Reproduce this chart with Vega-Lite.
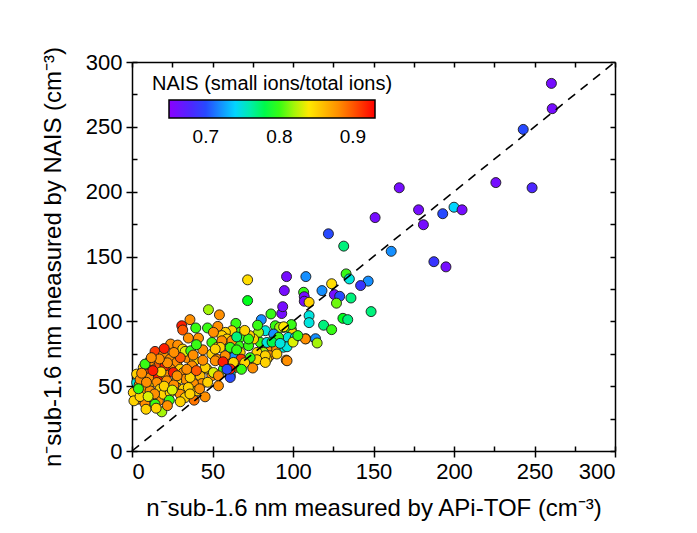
{
  "$schema": "https://vega.github.io/schema/vega-lite/v6.json",
  "width": 483,
  "height": 389,
  "autosize": "none",
  "padding": {"left": 132, "top": 62, "right": 82, "bottom": 82},
  "background": "white",
  "config": {
    "view": {"stroke": null},
    "axis": {
      "grid": false,
      "labelFont": "Liberation Sans",
      "titleFont": "Liberation Sans",
      "labelFontSize": 22,
      "titleFontSize": 24,
      "titleFontWeight": "normal",
      "labelColor": "black",
      "titleColor": "black",
      "domainColor": "black",
      "tickColor": "black",
      "domainWidth": 1.5,
      "tickWidth": 1.5
    }
  },
  "layer": [
    {
      "data": {
        "values": [
          {"x": 260.5, "y": 283.5, "r": 0.66},
          {"x": 261, "y": 264, "r": 0.66}, {"x": 243, "y": 248, "r": 0.70}, {"x": 226, "y": 207, "r": 0.66},
          {"x": 248.5, "y": 203, "r": 0.68}, {"x": 166, "y": 203, "r": 0.66}, {"x": 151, "y": 180, "r": 0.66},
          {"x": 178, "y": 186, "r": 0.66}, {"x": 200, "y": 188, "r": 0.74}, {"x": 205, "y": 186, "r": 0.66},
          {"x": 193, "y": 183, "r": 0.70}, {"x": 181, "y": 174.5, "r": 0.66}, {"x": 122, "y": 167.5, "r": 0.70},
          {"x": 131.5, "y": 158, "r": 0.77}, {"x": 161, "y": 154, "r": 0.72}, {"x": 187.5, "y": 146, "r": 0.69},
          {"x": 195, "y": 142, "r": 0.66}, {"x": 133, "y": 136.6, "r": 0.80}, {"x": 135, "y": 132.7, "r": 0.75},
          {"x": 146.7, "y": 131, "r": 0.72}, {"x": 142, "y": 127.6, "r": 0.69}, {"x": 124, "y": 129, "r": 0.845},
          {"x": 96, "y": 134.5, "r": 0.66}, {"x": 108, "y": 134.5, "r": 0.72}, {"x": 94.6, "y": 123.7, "r": 0.66},
          {"x": 106.6, "y": 122.4, "r": 0.80}, {"x": 107, "y": 119, "r": 0.66}, {"x": 107, "y": 115.5, "r": 0.66},
          {"x": 110, "y": 114.7, "r": 0.85}, {"x": 118, "y": 123.7, "r": 0.72}, {"x": 125.7, "y": 120.6, "r": 0.66},
          {"x": 129, "y": 119.3, "r": 0.70}, {"x": 127, "y": 114, "r": 0.81}, {"x": 136, "y": 118, "r": 0.77},
          {"x": 148.5, "y": 107.5, "r": 0.77}, {"x": 93, "y": 106, "r": 0.66}, {"x": 110, "y": 104.4, "r": 0.75},
          {"x": 110, "y": 99, "r": 0.75}, {"x": 131, "y": 102.3, "r": 0.79}, {"x": 134, "y": 101.3, "r": 0.77},
          {"x": 119, "y": 97, "r": 0.77}, {"x": 124, "y": 93.6, "r": 0.80}, {"x": 94, "y": 95.3, "r": 0.80},
          {"x": 99, "y": 93.6, "r": 0.80}, {"x": 100, "y": 90.7, "r": 0.85}, {"x": 108, "y": 86.6, "r": 0.86},
          {"x": 114, "y": 86.6, "r": 0.72}, {"x": 115, "y": 83.3, "r": 0.82}, {"x": 71.8, "y": 132, "r": 0.845},
          {"x": 71.8, "y": 116, "r": 0.79}, {"x": 93.6, "y": 111.3, "r": 0.66}, {"x": 86.3, "y": 105.7, "r": 0.80},
          {"x": 80.3, "y": 101.3, "r": 0.72}, {"x": 64.5, "y": 98.4, "r": 0.80}, {"x": 99, "y": 97.5, "r": 0.80},
          {"x": 89, "y": 96.6, "r": 0.80}, {"x": 91.7, "y": 95.3, "r": 0.82}, {"x": 94.2, "y": 95.8, "r": 0.84},
          {"x": 97, "y": 87.6, "r": 0.75}, {"x": 107.7, "y": 86.4, "r": 0.88}, {"x": 82.8, "y": 92.8, "r": 0.75},
          {"x": 78.6, "y": 91.5, "r": 0.82}, {"x": 88, "y": 90.2, "r": 0.72}, {"x": 91, "y": 87.6, "r": 0.80},
          {"x": 94, "y": 80, "r": 0.75}, {"x": 96.3, "y": 80.4, "r": 0.75}, {"x": 89, "y": 79.4, "r": 0.88},
          {"x": 83.8, "y": 78.6, "r": 0.88}, {"x": 79.7, "y": 83.7, "r": 0.80}, {"x": 75.5, "y": 86.4, "r": 0.85},
          {"x": 73, "y": 89, "r": 0.85}, {"x": 67.2, "y": 91.5, "r": 0.80}, {"x": 62, "y": 92.8, "r": 0.85},
          {"x": 58, "y": 91.5, "r": 0.85}, {"x": 67.2, "y": 87.6, "r": 0.80}, {"x": 56.8, "y": 86.4, "r": 0.88},
          {"x": 61.4, "y": 83.7, "r": 0.91}, {"x": 66.2, "y": 81.2, "r": 0.80}, {"x": 72.4, "y": 81.2, "r": 0.80},
          {"x": 59, "y": 75.2, "r": 0.88}, {"x": 67.2, "y": 76, "r": 0.85}, {"x": 63, "y": 72.1, "r": 0.72},
          {"x": 81.7, "y": 76, "r": 0.82}, {"x": 76.6, "y": 70.1, "r": 0.85}, {"x": 85.5, "y": 73.5, "r": 0.88},
          {"x": 90, "y": 74.8, "r": 0.85}, {"x": 95.8, "y": 70.1, "r": 0.88}, {"x": 83.8, "y": 70.9, "r": 0.85},
          {"x": 57.9, "y": 68.3, "r": 0.92}, {"x": 67.7, "y": 70.9, "r": 0.91}, {"x": 56.8, "y": 63.2, "r": 0.80},
          {"x": 61, "y": 58, "r": 0.80}, {"x": 64, "y": 64.4, "r": 0.88}, {"x": 59, "y": 78.6, "r": 0.70},
          {"x": 47.5, "y": 109, "r": 0.82}, {"x": 54.3, "y": 105, "r": 0.88}, {"x": 36, "y": 101.3, "r": 0.88},
          {"x": 39.6, "y": 94.9, "r": 0.80}, {"x": 46.9, "y": 94.9, "r": 0.80}, {"x": 53.3, "y": 96.1, "r": 0.88},
          {"x": 30.9, "y": 96.6, "r": 0.92}, {"x": 31.5, "y": 93.3, "r": 0.90}, {"x": 35, "y": 87.1, "r": 0.88},
          {"x": 41.3, "y": 87.1, "r": 0.88}, {"x": 24, "y": 82.5, "r": 0.88}, {"x": 28.4, "y": 81.7, "r": 0.88},
          {"x": 31.5, "y": 78.6, "r": 0.85}, {"x": 14.3, "y": 76.8, "r": 0.91}, {"x": 19.5, "y": 74.2, "r": 0.88},
          {"x": 23.7, "y": 70.9, "r": 0.88}, {"x": 34.4, "y": 71.7, "r": 0.88}, {"x": 38.8, "y": 69.6, "r": 0.85},
          {"x": 37.2, "y": 65.7, "r": 0.88}, {"x": 27.8, "y": 68.3, "r": 0.88}, {"x": 24, "y": 63.2, "r": 0.88},
          {"x": 29.9, "y": 63.2, "r": 0.85}, {"x": 16.4, "y": 67, "r": 0.90}, {"x": 11.2, "y": 65.7, "r": 0.88},
          {"x": 7, "y": 64.4, "r": 0.85}, {"x": 9.1, "y": 59.3, "r": 0.90}, {"x": 2.9, "y": 52.8, "r": 0.75},
          {"x": 4.5, "y": 51, "r": 0.88}, {"x": 11.2, "y": 56.7, "r": 0.88}, {"x": 16.4, "y": 56.7, "r": 0.92},
          {"x": 20.5, "y": 59.3, "r": 0.88}, {"x": 25.7, "y": 60.5, "r": 0.92}, {"x": 31.9, "y": 60.5, "r": 0.88},
          {"x": 37.2, "y": 60.5, "r": 0.88}, {"x": 42.3, "y": 58, "r": 0.86}, {"x": 46.5, "y": 63.2, "r": 0.85},
          {"x": 49.6, "y": 58, "r": 0.88}, {"x": 43.4, "y": 52, "r": 0.88}, {"x": 38.2, "y": 52, "r": 0.88},
          {"x": 33, "y": 55.4, "r": 0.88}, {"x": 27.8, "y": 54.1, "r": 0.85}, {"x": 21.6, "y": 54.1, "r": 0.88},
          {"x": 15.4, "y": 52.8, "r": 0.88}, {"x": 10.1, "y": 50.3, "r": 0.85}, {"x": 7, "y": 47.7, "r": 0.88},
          {"x": 2.9, "y": 45.1, "r": 0.85}, {"x": 3.9, "y": 40, "r": 0.88}, {"x": 8.1, "y": 36.6, "r": 0.88},
          {"x": 12.3, "y": 41.8, "r": 0.85}, {"x": 11.2, "y": 46.4, "r": 0.88}, {"x": 17.4, "y": 47.7, "r": 0.85},
          {"x": 16.4, "y": 38.7, "r": 0.88}, {"x": 19.5, "y": 43.8, "r": 0.85}, {"x": 23.7, "y": 45.1, "r": 0.85},
          {"x": 23.2, "y": 39.2, "r": 0.80}, {"x": 27.8, "y": 48.9, "r": 0.88}, {"x": 31.9, "y": 47.7, "r": 0.85},
          {"x": 29.9, "y": 43.8, "r": 0.88}, {"x": 33, "y": 41.2, "r": 0.85}, {"x": 38.6, "y": 39.2, "r": 0.89},
          {"x": 45.4, "y": 41.8, "r": 0.88}, {"x": 40.3, "y": 46.4, "r": 0.85}, {"x": 8.7, "y": 32.2, "r": 0.85},
          {"x": 18.5, "y": 30.2, "r": 0.82}, {"x": 14.3, "y": 36.1, "r": 0.80}, {"x": 0.8, "y": 45.1, "r": 0.85},
          {"x": 1.2, "y": 38.7, "r": 0.85}, {"x": 36.1, "y": 56.7, "r": 0.85}, {"x": 45.4, "y": 64.4, "r": 0.85},
          {"x": 50.6, "y": 60.5, "r": 0.83}, {"x": 53.7, "y": 58, "r": 0.88}, {"x": 11.2, "y": 69.6, "r": 0.88},
          {"x": 8.1, "y": 67, "r": 0.80}, {"x": 20.5, "y": 65.7, "r": 0.92}, {"x": 2.9, "y": 59.3, "r": 0.85},
          {"x": 33, "y": 76.8, "r": 0.83}, {"x": 36.5, "y": 77.3, "r": 0.80}, {"x": 49.6, "y": 83.7, "r": 0.80},
          {"x": 53, "y": 80, "r": 0.85}, {"x": 55.8, "y": 89, "r": 0.85}, {"x": 59, "y": 86.4, "r": 0.85},
          {"x": 49.6, "y": 74.8, "r": 0.85}, {"x": 52.7, "y": 70.9, "r": 0.88}, {"x": 57.9, "y": 73.5, "r": 0.88},
          {"x": 63, "y": 68.3, "r": 0.85}, {"x": 61, "y": 60.5, "r": 0.75}, {"x": 61, "y": 56.7, "r": 0.70},
          {"x": 53.7, "y": 50.3, "r": 0.88}, {"x": 62, "y": 85, "r": 0.88}, {"x": 55.8, "y": 85, "r": 0.88},
          {"x": 54.8, "y": 79.9, "r": 0.85}, {"x": 61, "y": 79.9, "r": 0.80}, {"x": 72.4, "y": 86.4, "r": 0.80},
          {"x": 77.6, "y": 76, "r": 0.85}, {"x": 82.8, "y": 73.5, "r": 0.85}, {"x": 96.3, "y": 69.6, "r": 0.88},
          {"x": 77.6, "y": 70.4, "r": 0.85}, {"x": 83.8, "y": 83.7, "r": 0.75}, {"x": 51.7, "y": 69.6, "r": 0.88},
          {"x": 61, "y": 63.2, "r": 0.92}, {"x": 44, "y": 70, "r": 0.88}, {"x": 5, "y": 55, "r": 0.88},
          {"x": 5, "y": 42, "r": 0.85}, {"x": 14, "y": 44, "r": 0.88}, {"x": 20, "y": 50, "r": 0.85},
          {"x": 26, "y": 51, "r": 0.88}, {"x": 35, "y": 49, "r": 0.85}, {"x": 42, "y": 48, "r": 0.88},
          {"x": 9, "y": 53, "r": 0.88}, {"x": 18, "y": 61, "r": 0.85}, {"x": 28, "y": 58, "r": 0.88},
          {"x": 34, "y": 63, "r": 0.88}, {"x": 40, "y": 62, "r": 0.90}, {"x": 13, "y": 62, "r": 0.92},
          {"x": 22, "y": 68, "r": 0.88}, {"x": 30, "y": 72, "r": 0.90}, {"x": 17, "y": 71, "r": 0.88},
          {"x": 6, "y": 60, "r": 0.88}, {"x": 25, "y": 47, "r": 0.83}, {"x": 36, "y": 44, "r": 0.85},
          {"x": 47, "y": 53, "r": 0.85}, {"x": 15, "y": 33, "r": 0.85}, {"x": 22, "y": 35, "r": 0.88},
          {"x": 30, "y": 38, "r": 0.85}, {"x": 4, "y": 48, "r": 0.80}, {"x": 10, "y": 42, "r": 0.83},
          {"x": 38, "y": 74, "r": 0.88}, {"x": 26, "y": 76, "r": 0.88}, {"x": 44, "y": 78, "r": 0.88},
          {"x": 20, "y": 79, "r": 0.92}, {"x": 12, "y": 72, "r": 0.88}, {"x": 40, "y": 82, "r": 0.80},
          {"x": 50.6, "y": 91.5, "r": 0.88}, {"x": 51.7, "y": 78.6, "r": 0.85}, {"x": 56.5, "y": 68.8, "r": 0.92},
          {"x": 59, "y": 63, "r": 0.70}, {"x": 73.4, "y": 72, "r": 0.80}, {"x": 82.8, "y": 68.3, "r": 0.85},
          {"x": 101.4, "y": 87.6, "r": 0.75}, {"x": 65, "y": 78, "r": 0.80}, {"x": 70, "y": 68, "r": 0.85},
          {"x": 75, "y": 64, "r": 0.88}, {"x": 68, "y": 63, "r": 0.80}, {"x": 87, "y": 84, "r": 0.78},
          {"x": 92, "y": 83, "r": 0.75}, {"x": 100, "y": 84, "r": 0.83}, {"x": 103, "y": 89, "r": 0.80},
          {"x": 65, "y": 88, "r": 0.77}, {"x": 70, "y": 93, "r": 0.85}, {"x": 78, "y": 97, "r": 0.80}
        ]
      },
      "mark": {"type": "circle", "size": 100, "opacity": 1, "stroke": "#1a1a1a", "strokeWidth": 0.9},
      "encoding": {
        "x": {
          "field": "x", "type": "quantitative",
          "scale": {"domain": [0, 300], "nice": false, "zero": false},
          "axis": {
            "orient": "bottom", "values": [0, 50, 100, 150, 200, 250, 300], "tickSize": 6,
            "labelPadding": 4, "title": "n⁻sub-1.6 nm measured by APi-TOF (cm⁻³)", "titlePadding": 14
          }
        },
        "y": {
          "field": "y", "type": "quantitative",
          "scale": {"domain": [0, 300], "nice": false, "zero": false},
          "axis": {
            "orient": "left", "values": [0, 50, 100, 150, 200, 250, 300], "tickSize": 6,
            "labelPadding": 4, "title": "n⁻sub-1.6 nm measured by NAIS (cm⁻³)", "titlePadding": 20
          }
        },
        "color": {
          "field": "r", "type": "quantitative",
          "scale": {
            "domain": [0.65, 0.93], "interpolate": "rgb",
            "range": ["#8B00FF", "#2A3DFF", "#00E1FF", "#00FF1A", "#FFF000", "#FF8800", "#FF0000"]
          },
          "legend": {
            "orient": "none", "legendX": 20, "legendY": 12, "direction": "horizontal",
            "title": "NAIS (small ions/total ions)", "titleAnchor": "middle", "titleLimit": 600,
            "titleFont": "Liberation Sans", "labelFont": "Liberation Sans",
            "titleFontSize": 20, "labelFontSize": 19, "titleFontWeight": "normal",
            "titleColor": "black", "labelColor": "black", "titlePadding": 6,
            "gradientLength": 206, "gradientThickness": 18,
            "gradientStrokeColor": "black", "gradientStrokeWidth": 1.5,
            "values": [0.7, 0.8, 0.9], "format": ".1f", "labelOffset": 10
          }
        }
      }
    },
    {
      "data": {"values": [{"x": 0, "y": 0}, {"x": 300, "y": 300}]},
      "mark": {"type": "line", "color": "black", "strokeWidth": 1.6, "strokeDash": [9, 7]},
      "encoding": {
        "x": {
          "field": "x", "type": "quantitative",
          "axis": {"orient": "top", "values": [0, 25, 50, 75, 100, 125, 150, 175, 200, 225, 250, 275, 300], "tickSize": -5, "labels": false, "title": null}
        },
        "y": {
          "field": "y", "type": "quantitative",
          "axis": {"orient": "right", "values": [0, 25, 50, 75, 100, 125, 150, 175, 200, 225, 250, 275, 300], "tickSize": -5, "labels": false, "title": null}
        }
      }
    },
    {
      "data": {"values": [{"x": 0, "y": 0}, {"x": 300, "y": 300}]},
      "mark": {"type": "line", "opacity": 0},
      "encoding": {
        "x": {
          "field": "x", "type": "quantitative",
          "axis": {"orient": "bottom", "values": [0, 25, 50, 75, 100, 125, 150, 175, 200, 225, 250, 275, 300], "tickSize": -5, "labels": false, "title": null, "domain": false}
        },
        "y": {
          "field": "y", "type": "quantitative",
          "axis": {"orient": "left", "values": [0, 25, 50, 75, 100, 125, 150, 175, 200, 225, 250, 275, 300], "tickSize": -5, "labels": false, "title": null, "domain": false}
        }
      }
    }
  ],
  "resolve": {"axis": {"x": "independent", "y": "independent"}}
}
